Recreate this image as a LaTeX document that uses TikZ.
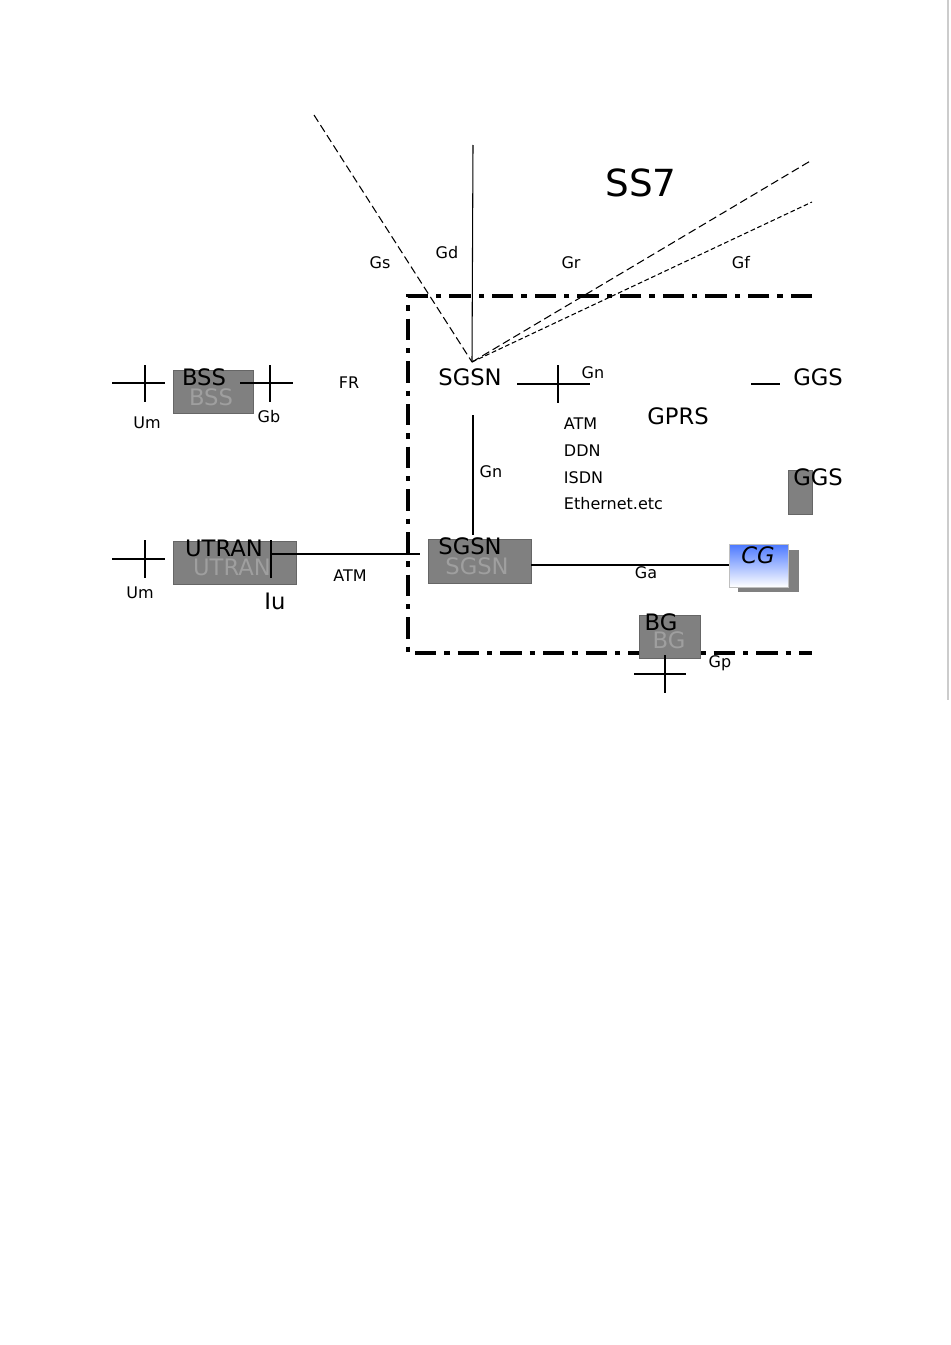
\documentclass[tikz,border=0pt]{standalone}
\usepackage{fontspec}
\setmainfont{DejaVu Sans}
\begin{document}
\begin{tikzpicture}[x=0.75pt,y=-0.75pt, line width=0.8pt,
  sm/.style={font=\fontsize{12}{14}\selectfont},
  big/.style={font=\fontsize{17}{20}\selectfont},
  gbox/.style={fill=gray, draw=gray!80!black, line width=0.6pt},
  ghost/.style={font=\fontsize{17}{20}\selectfont, text=gray!75!white},
  border/.style={line width=3.5pt, dash pattern=on 16pt off 6pt on 4pt off 6pt}]
\useasboundingbox (0,0) rectangle (950,1345);
\fill[white] (0,0) rectangle (950,1345);
\draw[gray!40] (948,0) -- (948,700);
% SS7 area
\coordinate (hub) at (472,362);
\coordinate (gsend) at (314,115);
\coordinate (gdend) at (473,145);
\coordinate (grend) at (812,160);
\coordinate (gfend) at (812,202);
\draw[dash pattern=on 6pt off 3pt] (gsend) -- (hub);
\draw (gdend) -- (hub);
\draw[dash pattern=on 6pt off 3pt] (hub) -- (grend);
\draw[dash pattern=on 3.5pt off 2pt] (hub) -- (gfend);
\node[font=\fontsize{28}{32}\selectfont] (ss7) at (641,183) {SS7};
\node[sm] (gs) at (380,263) {Gs};
\node[sm] (gd) at (447,253) {Gd};
\node[sm] (gr) at (571,263) {Gr};
\node[sm] (gf) at (741,263) {Gf};
% border
\coordinate (b1) at (812,296);
\coordinate (b2) at (408,296);
\coordinate (b3) at (408,653);
\coordinate (b4) at (812,653);
\draw[border] (b1) -- (b2) -- (b3) -- (b4);
% BSS
\node[gbox, minimum width=60pt, minimum height=32pt, anchor=north west] (bssbox) at (173,370) {};
\node[ghost] at (211,397) {BSS};
\node[big] (bss) at (204,377) {BSS};
\coordinate (c1a) at (112,383); \coordinate (c1b) at (165,383);
\coordinate (c1c) at (145,365); \coordinate (c1d) at (145,402);
\draw (c1a) -- (c1b) (c1c) -- (c1d);
\coordinate (c2a) at (240,383); \coordinate (c2b) at (293,383);
\coordinate (c2c) at (270,365); \coordinate (c2d) at (270,402);
\draw (c2a) -- (c2b) (c2c) -- (c2d);
\node[sm] (um1) at (147,423) {Um};
\node[sm] (gb) at (269,417) {Gb};
\node[sm] (fr) at (349,383) {FR};
% SGSN top
\node[big] (sgsn1) at (470,377) {SGSN};
\coordinate (c3a) at (517,384); \coordinate (c3b) at (590,384);
\coordinate (c3c) at (558,365); \coordinate (c3d) at (558,403);
\draw (c3a) -- (c3b) (c3c) -- (c3d);
\node[sm] (gn1) at (593,373) {Gn};
\coordinate (g1a) at (751,384); \coordinate (g1b) at (780,384);
\draw (g1a) -- (g1b);
\node[big] (ggs1) at (818,377) {GGS};
\node[big] (gprs) at (678,416) {GPRS};
\node[sm, anchor=west] (atm1) at (559,424) {ATM};
\node[sm, anchor=west] (ddn) at (559,451) {DDN};
\node[sm, anchor=west] (isdn) at (559,478) {ISDN};
\node[sm, anchor=west] (eth) at (559,504) {Ethernet.etc};
\coordinate (gn2a) at (473,415); \coordinate (gn2b) at (473,535);
\draw (gn2a) -- (gn2b);
\node[sm] (gn2) at (491,472) {Gn};
% GGS 2
\node[gbox, minimum width=18pt, minimum height=33pt, anchor=north west, inner sep=0pt] (ggsbox) at (788,470) {};
\node[big] (ggs2) at (818,477) {GGS};
% UTRAN
\node[gbox, minimum width=92pt, minimum height=32pt, anchor=north west] (utranbox) at (173,541) {};
\node[ghost] at (232,567) {UTRAN};
\node[big] (utran) at (224,548) {UTRAN};
\coordinate (c4a) at (112,559); \coordinate (c4b) at (165,559);
\coordinate (c4c) at (145,540); \coordinate (c4d) at (145,578);
\draw (c4a) -- (c4b) (c4c) -- (c4d);
\node[sm] (um2) at (140,593) {Um};
\coordinate (iua) at (271,540); \coordinate (iub) at (271,578);
\draw (iua) -- (iub);
\node[big] (iu) at (275,601) {Iu};
\coordinate (atmend) at (420,554);
\draw (iua |- atmend) -- (atmend);
\node[sm] (atm2) at (350,576) {ATM};
% SGSN 2
\node[gbox, minimum width=77pt, minimum height=33pt, anchor=north west] (sgsnbox) at (428,539) {};
\node[ghost] at (477,566) {SGSN};
\node[big] (sgsn2) at (470,546) {SGSN};
% CG
\node[fill=gray, minimum width=46pt, minimum height=32pt, anchor=north west] (cgshadow) at (737,549) {};
\node[draw=gray!50, line width=0.5pt, top color=blue!75!cyan!70, bottom color=white, minimum width=44pt, minimum height=32pt, anchor=north west] (cgbox) at (729,544) {};
\node[big] (cg) at (758,555) {\itshape CG};
\draw (sgsnbox.east |- 0,565) -- (cgbox.west |- 0,565);
\node[sm] (ga) at (646,573) {Ga};
% BG
\node[gbox, minimum width=46pt, minimum height=32pt, anchor=north west] (bgbox) at (639,615) {};
\node[ghost] at (669,640) {BG};
\node[big] (bg) at (661,622) {BG};
\coordinate (c5a) at (634,674); \coordinate (c5b) at (686,674);
\coordinate (c5c) at (665,655); \coordinate (c5d) at (665,693);
\draw (c5a) -- (c5b) (c5c) -- (c5d);
\node[sm] (gp) at (720,663) {Gp};
\end{tikzpicture}
\end{document}
